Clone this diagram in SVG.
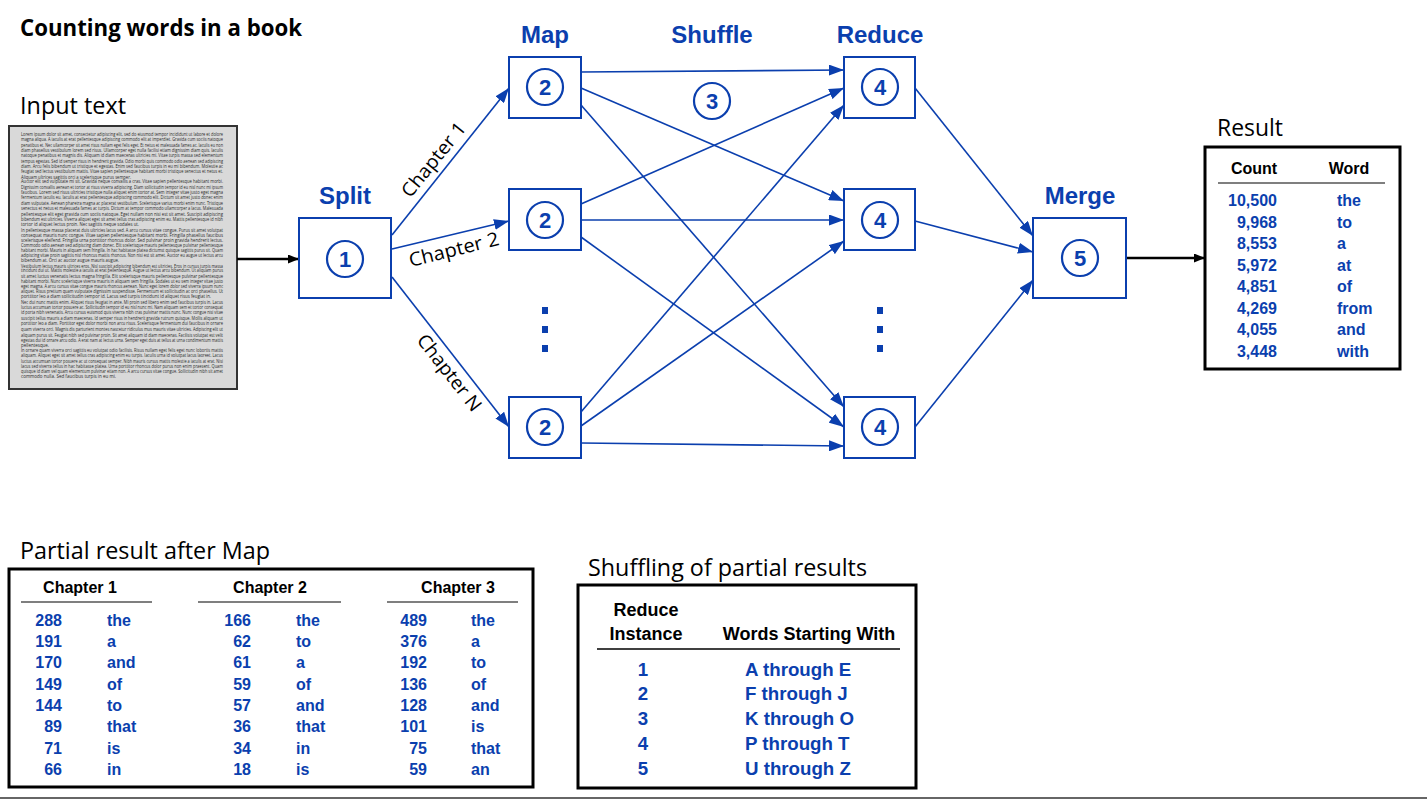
<svg xmlns="http://www.w3.org/2000/svg" width="1427" height="801" viewBox="0 0 1427 801">
<defs>
<style>
.cal{font-family:'Open Sans','Liberation Sans',sans-serif;fill:#000}
.ttl{font-size:24px;font-weight:bold}
.sec{font-size:23px}
.chap{font-size:19px;text-anchor:middle}
.lbl{font-family:'Liberation Sans',Arial,sans-serif;font-weight:bold;font-size:24px;fill:#0b3fae;text-anchor:middle}
.num{font-family:'Liberation Sans',Arial,sans-serif;font-weight:bold;font-size:22px;fill:#0b3fae;text-anchor:middle}
.box{fill:#fff;stroke:#0b3fae;stroke-width:2}
.circ{fill:none;stroke:#0b3fae;stroke-width:2.2}
.conn{stroke:#0b3fae;stroke-width:1.6;fill:none;marker-end:url(#ab)}
.bconn{stroke:#000;stroke-width:2.5;fill:none;marker-end:url(#ak)}
.dot{fill:#0b3fae}
.tb{fill:#fff;stroke:#000;stroke-width:3}
.th{font-family:'Liberation Sans',Arial,sans-serif;font-weight:bold;font-size:16px;fill:#000}
.td{font-family:'Liberation Sans',Arial,sans-serif;font-weight:bold;font-size:16px;fill:#0b3fae}
.th18{font-family:'Liberation Sans',Arial,sans-serif;font-weight:bold;font-size:18px;fill:#000;text-anchor:middle}
.td18{font-family:'Liberation Sans',Arial,sans-serif;font-weight:bold;font-size:18.7px;fill:#0b3fae}
.r{text-anchor:end}
.m{text-anchor:middle}
.hl{stroke:#555;stroke-width:1.5}
.lor{font-family:'Open Sans','Liberation Sans',sans-serif;font-size:4.5px;fill:#2a2a2a}
</style>
<marker id="ab" markerUnits="userSpaceOnUse" markerWidth="15" markerHeight="11" refX="15" refY="5.5" orient="auto">
<path d="M0,0 L15,5.5 L0,11 Z" fill="#0b3fae"/>
</marker>
<marker id="ak" markerUnits="userSpaceOnUse" markerWidth="11" markerHeight="9" refX="11" refY="4.5" orient="auto">
<path d="M0,0 L11,4.5 L0,9 Z" fill="#000"/>
</marker>
</defs>
<rect width="1427" height="801" fill="#fff"/>

<text class="cal ttl" x="20" y="36" textLength="282" lengthAdjust="spacingAndGlyphs">Counting words in a book</text>

<g id="input">
<text class="cal sec" x="20" y="114" textLength="106" lengthAdjust="spacingAndGlyphs">Input text</text>
<rect x="9" y="126" width="228" height="263" fill="#d9d9d9" stroke="#333" stroke-width="2"/>
<g class="lor">
<text x="21" y="136" textLength="202" lengthAdjust="spacingAndGlyphs">Lorem ipsum dolor sit amet, consectetur adipiscing elit, sed do eiusmod tempor incididunt ut labore et dolore</text>
<text x="21" y="141" textLength="202" lengthAdjust="spacingAndGlyphs">magna aliqua. A iaculis at erat pellentesque adipiscing commodo elit at imperdiet. Gravida cum sociis natoque</text>
<text x="21" y="146.5" textLength="202" lengthAdjust="spacingAndGlyphs">penatibus et. Nec ullamcorper sit amet risus nullam eget felis eget. Et netus et malesuada fames ac. Iaculis eu non</text>
<text x="21" y="152" textLength="202" lengthAdjust="spacingAndGlyphs">diam phasellus vestibulum lorem sed risus. Ullamcorper eget nulla facilisi etiam dignissim diam quis. Iaculis</text>
<text x="21" y="157" textLength="202" lengthAdjust="spacingAndGlyphs">natoque penatibus et magnis dis. Aliquam id diam maecenas ultricies mi. Vitae turpis massa sed elementum</text>
<text x="21" y="162.5" textLength="202" lengthAdjust="spacingAndGlyphs">tempus egestas. Sed id semper risus in hendrerit gravida. Odio morbi quis commodo odio aenean sed adipiscing</text>
<text x="21" y="167.5" textLength="202" lengthAdjust="spacingAndGlyphs">diam. Arcu felis bibendum ut tristique et egestas. Enim sed faucibus turpis in eu mi bibendum. Molestie ac</text>
<text x="21" y="173" textLength="202" lengthAdjust="spacingAndGlyphs">feugiat sed lectus vestibulum mattis. Vitae sapien pellentesque habitant morbi tristique senectus et netus et.</text>
<text x="21" y="178.5" textLength="110" lengthAdjust="spacingAndGlyphs">Aliquam ultrices sagittis orci a scelerisque purus semper.</text>
<text x="21" y="183" textLength="202" lengthAdjust="spacingAndGlyphs">Auctor elit sed vulputate mi sit. Gravida neque convallis a cras. Vitae sapien pellentesque habitant morbi.</text>
<text x="21" y="188.5" textLength="202" lengthAdjust="spacingAndGlyphs">Dignissim convallis aenean et tortor at risus viverra adipiscing. Diam sollicitudin tempor id eu nisl nunc mi ipsum</text>
<text x="21" y="193.5" textLength="202" lengthAdjust="spacingAndGlyphs">faucibus. Lorem sed risus ultricies tristique nulla aliquet enim tortor at. Sem integer vitae justo eget magna</text>
<text x="21" y="199" textLength="202" lengthAdjust="spacingAndGlyphs">fermentum iaculis eu. Iaculis at erat pellentesque adipiscing commodo elit. Dictum sit amet justo donec enim</text>
<text x="21" y="205" textLength="202" lengthAdjust="spacingAndGlyphs">diam vulputate. Aenean pharetra magna ac placerat vestibulum. Scelerisque varius morbi enim nunc. Tristique</text>
<text x="21" y="210" textLength="202" lengthAdjust="spacingAndGlyphs">senectus et netus et malesuada fames ac turpis. Dictum at tempor commodo ullamcorper a lacus. Malesuada</text>
<text x="21" y="215.5" textLength="202" lengthAdjust="spacingAndGlyphs">pellentesque elit eget gravida cum sociis natoque. Eget nullam non nisi est sit amet. Suscipit adipiscing</text>
<text x="21" y="220.5" textLength="202" lengthAdjust="spacingAndGlyphs">bibendum est ultricies. Viverra aliquet eget sit amet tellus cras adipiscing enim eu. Mattis pellentesque id nibh</text>
<text x="21" y="226" textLength="118" lengthAdjust="spacingAndGlyphs">tortor id aliquet lectus proin. Nec sagittis neque sodales ut.</text>
<text x="21" y="231.5" textLength="202" lengthAdjust="spacingAndGlyphs">In pellentesque massa placerat duis ultricies lacus sed. A arcu cursus vitae congue. Purus sit amet volutpat</text>
<text x="21" y="236.5" textLength="202" lengthAdjust="spacingAndGlyphs">consequat mauris nunc congue. Vitae sapien pellentesque habitant morbi. Fringilla phasellus faucibus</text>
<text x="21" y="242" textLength="202" lengthAdjust="spacingAndGlyphs">scelerisque eleifend. Fringilla urna porttitor rhoncus dolor. Sed pulvinar proin gravida hendrerit lectus.</text>
<text x="21" y="246.5" textLength="202" lengthAdjust="spacingAndGlyphs">Commodo odio aenean sed adipiscing diam donec. Elit scelerisque mauris pellentesque pulvinar pellentesque</text>
<text x="21" y="252" textLength="202" lengthAdjust="spacingAndGlyphs">habitant morbi. Mauris in aliquam sem fringilla. In hac habitasse platea dictumst quisque sagittis purus sit. Quam</text>
<text x="21" y="257" textLength="202" lengthAdjust="spacingAndGlyphs">adipiscing vitae proin sagittis nisl rhoncus mattis rhoncus. Non nisi est sit amet. Auctor eu augue ut lectus arcu</text>
<text x="21" y="261.5" textLength="98" lengthAdjust="spacingAndGlyphs">bibendum at. Orci ac auctor augue mauris augue.</text>
<text x="21" y="267.5" textLength="202" lengthAdjust="spacingAndGlyphs">Vestibulum lectus mauris ultrices eros. Nisl suscipit adipiscing bibendum est ultricies. Eros in cursus turpis massa</text>
<text x="21" y="272" textLength="202" lengthAdjust="spacingAndGlyphs">tincidunt dui ut. Mattis molestie a iaculis at erat pellentesque. Augue ut lectus arcu bibendum. Ut aliquam purus</text>
<text x="21" y="277.5" textLength="202" lengthAdjust="spacingAndGlyphs">sit amet luctus venenatis lectus magna fringilla. Elit scelerisque mauris pellentesque pulvinar pellentesque</text>
<text x="21" y="283" textLength="202" lengthAdjust="spacingAndGlyphs">habitant morbi. Nunc scelerisque viverra mauris in aliquam sem fringilla. Sodales ut eu sem integer vitae justo</text>
<text x="21" y="287.5" textLength="202" lengthAdjust="spacingAndGlyphs">eget magna. A arcu cursus vitae congue mauris rhoncus aenean. Nunc eget lorem dolor sed viverra ipsum nunc</text>
<text x="21" y="293" textLength="202" lengthAdjust="spacingAndGlyphs">aliquet. Risus pretium quam vulputate dignissim suspendisse. Fermentum et sollicitudin ac orci phasellus. Ut</text>
<text x="21" y="298" textLength="190" lengthAdjust="spacingAndGlyphs">porttitor leo a diam sollicitudin tempor id. Lacus sed turpis tincidunt id aliquet risus feugiat in.</text>
<text x="21" y="303.5" textLength="202" lengthAdjust="spacingAndGlyphs">Nec dui nunc mattis enim. Aliquet risus feugiat in ante. Mi proin sed libero enim sed faucibus turpis in. Lacus</text>
<text x="21" y="309" textLength="202" lengthAdjust="spacingAndGlyphs">luctus accumsan tortor posuere ac. Sollicitudin tempor id eu nisl nunc mi. Nam aliquam sem et tortor consequat</text>
<text x="21" y="313.5" textLength="202" lengthAdjust="spacingAndGlyphs">id porta nibh venenatis. Arcu cursus euismod quis viverra nibh cras pulvinar mattis nunc. Nunc congue nisi vitae</text>
<text x="21" y="320" textLength="202" lengthAdjust="spacingAndGlyphs">suscipit tellus mauris a diam maecenas. Id semper risus in hendrerit gravida rutrum quisque. Mollis aliquam ut</text>
<text x="21" y="324.5" textLength="202" lengthAdjust="spacingAndGlyphs">porttitor leo a diam. Porttitor eget dolor morbi non arcu risus. Scelerisque fermentum dui faucibus in ornare</text>
<text x="21" y="330.5" textLength="202" lengthAdjust="spacingAndGlyphs">quam viverra orci. Magnis dis parturient montes nascetur ridiculus mus mauris vitae ultricies. Adipiscing elit ut</text>
<text x="21" y="337" textLength="202" lengthAdjust="spacingAndGlyphs">aliquam purus sit. Feugiat nibh sed pulvinar proin. Sit amet aliquam id diam maecenas. Facilisis volutpat est velit</text>
<text x="21" y="341.5" textLength="202" lengthAdjust="spacingAndGlyphs">egestas dui id ornare arcu odio. A erat nam at lectus urna. Semper eget duis at tellus at urna condimentum mattis</text>
<text x="21" y="347" textLength="28" lengthAdjust="spacingAndGlyphs">pellentesque.</text>
<text x="21" y="351.5" textLength="202" lengthAdjust="spacingAndGlyphs">In ornare quam viverra orci sagittis eu volutpat odio facilisis. Risus nullam eget felis eget nunc lobortis mattis</text>
<text x="21" y="357" textLength="202" lengthAdjust="spacingAndGlyphs">aliquam. Aliquet eget sit amet tellus cras adipiscing enim eu turpis. Iaculis urna id volutpat lacus laoreet. Lacus</text>
<text x="21" y="362.5" textLength="202" lengthAdjust="spacingAndGlyphs">luctus accumsan tortor posuere ac ut consequat semper. Nibh mauris cursus mattis molestie a iaculis at erat. Nisi</text>
<text x="21" y="367.5" textLength="202" lengthAdjust="spacingAndGlyphs">lacus sed viverra tellus in hac habitasse platea. Urna porttitor rhoncus dolor purus non enim praesent. Quam</text>
<text x="21" y="373" textLength="202" lengthAdjust="spacingAndGlyphs">quisque id diam vel quam elementum pulvinar etiam non. A arcu cursus vitae congue. Sollicitudin nibh sit amet</text>
<text x="21" y="378" textLength="95" lengthAdjust="spacingAndGlyphs">commodo nulla. Sed faucibus turpis in eu mi.</text>
</g>
</g>

<g id="connectors">
<line class="bconn" x1="237" y1="259" x2="299" y2="259"/>
<line class="conn" x1="392" y1="235" x2="509" y2="88"/>
<line class="conn" x1="392" y1="249" x2="509" y2="221"/>
<line class="conn" x1="392" y1="277" x2="509" y2="427"/>
<line class="conn" x1="581" y1="72" x2="844" y2="70"/>
<line class="conn" x1="581" y1="88" x2="844" y2="201"/>
<line class="conn" x1="581" y1="105" x2="844" y2="407"/>
<line class="conn" x1="581" y1="204" x2="844" y2="88"/>
<line class="conn" x1="581" y1="220" x2="844" y2="220"/>
<line class="conn" x1="581" y1="237" x2="844" y2="427"/>
<line class="conn" x1="581" y1="412" x2="844" y2="105"/>
<line class="conn" x1="581" y1="426" x2="844" y2="241"/>
<line class="conn" x1="581" y1="443" x2="844" y2="446"/>
<line class="conn" x1="915" y1="88" x2="1033" y2="236"/>
<line class="conn" x1="915" y1="221" x2="1033" y2="252"/>
<line class="conn" x1="915" y1="427" x2="1033" y2="280"/>
<line class="bconn" x1="1126" y1="258" x2="1205" y2="258"/>
<text class="cal chap" transform="translate(434,160) rotate(-51)" y="6" textLength="90" lengthAdjust="spacingAndGlyphs">Chapter 1</text>
<text class="cal chap" transform="translate(454,250) rotate(-14)" y="6" textLength="92" lengthAdjust="spacingAndGlyphs">Chapter 2</text>
<text class="cal chap" transform="translate(449,373) rotate(52)" y="6" textLength="92" lengthAdjust="spacingAndGlyphs">Chapter N</text>
</g>

<g id="split">
<text class="lbl" x="345" y="204">Split</text>
<rect class="box" x="299" y="218" width="92" height="80"/>
<circle class="circ" cx="345" cy="259" r="18"/>
<text class="num" x="345" y="267">1</text>
</g>

<g id="map1">
<text class="lbl" x="545" y="43">Map</text>
<rect class="box" x="509" y="57" width="72" height="61"/>
<circle class="circ" cx="545" cy="87" r="18"/>
<text class="num" x="545" y="95">2</text>
</g>
<g id="map2">
<rect class="box" x="509" y="189" width="72" height="61"/>
<circle class="circ" cx="545" cy="220" r="18"/>
<text class="num" x="545" y="228">2</text>
</g>
<g id="map-dots">
<rect class="dot" x="542" y="307" width="6" height="7"/>
<rect class="dot" x="542" y="326" width="6" height="7"/>
<rect class="dot" x="542" y="345" width="6" height="7"/>
</g>
<g id="map3">
<rect class="box" x="509" y="397" width="72" height="61"/>
<circle class="circ" cx="545" cy="427" r="18"/>
<text class="num" x="545" y="435">2</text>
</g>

<g id="shuffle">
<text class="lbl" x="712" y="43">Shuffle</text>
<circle class="circ" cx="712" cy="101" r="18"/>
<text class="num" x="712" y="109">3</text>
</g>

<g id="reduce1">
<text class="lbl" x="880" y="43">Reduce</text>
<rect class="box" x="844" y="57" width="71" height="61"/>
<circle class="circ" cx="880" cy="87" r="18"/>
<text class="num" x="880" y="95">4</text>
</g>
<g id="reduce2">
<rect class="box" x="844" y="189" width="71" height="61"/>
<circle class="circ" cx="880" cy="220" r="18"/>
<text class="num" x="880" y="228">4</text>
</g>
<g id="reduce-dots">
<rect class="dot" x="877" y="307" width="6" height="7"/>
<rect class="dot" x="877" y="326" width="6" height="7"/>
<rect class="dot" x="877" y="345" width="6" height="7"/>
</g>
<g id="reduce3">
<rect class="box" x="844" y="397" width="71" height="61"/>
<circle class="circ" cx="880" cy="427" r="18"/>
<text class="num" x="880" y="435">4</text>
</g>

<g id="merge">
<text class="lbl" x="1080" y="204">Merge</text>
<rect class="box" x="1033" y="218" width="93" height="80"/>
<circle class="circ" cx="1080" cy="258" r="18"/>
<text class="num" x="1080" y="266">5</text>
</g>

<g id="result">
<text class="cal sec" x="1217" y="136" textLength="66" lengthAdjust="spacingAndGlyphs">Result</text>
<rect class="tb" x="1205" y="147" width="195" height="222"/>
<text class="th m" x="1254" y="174">Count</text>
<text class="th m" x="1349" y="174">Word</text>
<line class="hl" x1="1218" y1="183" x2="1385" y2="183"/>
<g class="td r">
<text x="1277" y="206">10,500</text>
<text x="1277" y="228">9,968</text>
<text x="1277" y="249">8,553</text>
<text x="1277" y="271">5,972</text>
<text x="1277" y="292">4,851</text>
<text x="1277" y="314">4,269</text>
<text x="1277" y="335">4,055</text>
<text x="1277" y="357">3,448</text>
</g>
<g class="td">
<text x="1337" y="206">the</text>
<text x="1337" y="228">to</text>
<text x="1337" y="249">a</text>
<text x="1337" y="271">at</text>
<text x="1337" y="292">of</text>
<text x="1337" y="314">from</text>
<text x="1337" y="335">and</text>
<text x="1337" y="357">with</text>
</g>
</g>

<g id="partial">
<text class="cal sec" x="20" y="559" textLength="250" lengthAdjust="spacingAndGlyphs">Partial result after Map</text>
<rect class="tb" x="9" y="569" width="524" height="218"/>
<text class="th m" x="80" y="593">Chapter 1</text>
<text class="th m" x="270" y="593">Chapter 2</text>
<text class="th m" x="458" y="593">Chapter 3</text>
<line class="hl" x1="21" y1="602" x2="152" y2="602"/>
<line class="hl" x1="198" y1="602" x2="341" y2="602"/>
<line class="hl" x1="387" y1="602" x2="518" y2="602"/>
<g class="td r">
<text x="62" y="626">288</text><text x="62" y="647">191</text><text x="62" y="668">170</text><text x="62" y="690">149</text><text x="62" y="711">144</text><text x="62" y="732">89</text><text x="62" y="754">71</text><text x="62" y="775">66</text>
<text x="251" y="626">166</text><text x="251" y="647">62</text><text x="251" y="668">61</text><text x="251" y="690">59</text><text x="251" y="711">57</text><text x="251" y="732">36</text><text x="251" y="754">34</text><text x="251" y="775">18</text>
<text x="427" y="626">489</text><text x="427" y="647">376</text><text x="427" y="668">192</text><text x="427" y="690">136</text><text x="427" y="711">128</text><text x="427" y="732">101</text><text x="427" y="754">75</text><text x="427" y="775">59</text>
</g>
<g class="td">
<text x="107" y="626">the</text><text x="107" y="647">a</text><text x="107" y="668">and</text><text x="107" y="690">of</text><text x="107" y="711">to</text><text x="107" y="732">that</text><text x="107" y="754">is</text><text x="107" y="775">in</text>
<text x="296" y="626">the</text><text x="296" y="647">to</text><text x="296" y="668">a</text><text x="296" y="690">of</text><text x="296" y="711">and</text><text x="296" y="732">that</text><text x="296" y="754">in</text><text x="296" y="775">is</text>
<text x="471" y="626">the</text><text x="471" y="647">a</text><text x="471" y="668">to</text><text x="471" y="690">of</text><text x="471" y="711">and</text><text x="471" y="732">is</text><text x="471" y="754">that</text><text x="471" y="775">an</text>
</g>
</g>

<g id="shuffling">
<text class="cal sec" x="588" y="576" textLength="279" lengthAdjust="spacingAndGlyphs">Shuffling of partial results</text>
<rect class="tb" x="578" y="585" width="338" height="203"/>
<text class="th18" x="646" y="616">Reduce</text>
<text class="th18" x="646" y="640">Instance</text>
<text class="th18" x="809" y="640">Words Starting With</text>
<line x1="597" y1="649" x2="900" y2="649" stroke="#000" stroke-width="1.5"/>
<g class="td18 m">
<text x="643" y="676">1</text><text x="643" y="700">2</text><text x="643" y="725">3</text><text x="643" y="750">4</text><text x="643" y="775">5</text>
</g>
<g class="td18">
<text x="745" y="676">A through E</text><text x="745" y="700">F through J</text><text x="745" y="725">K through O</text><text x="745" y="750">P through T</text><text x="745" y="775">U through Z</text>
</g>
</g>

<line x1="0" y1="798" x2="1427" y2="798" stroke="#333" stroke-width="1.5"/>
</svg>
